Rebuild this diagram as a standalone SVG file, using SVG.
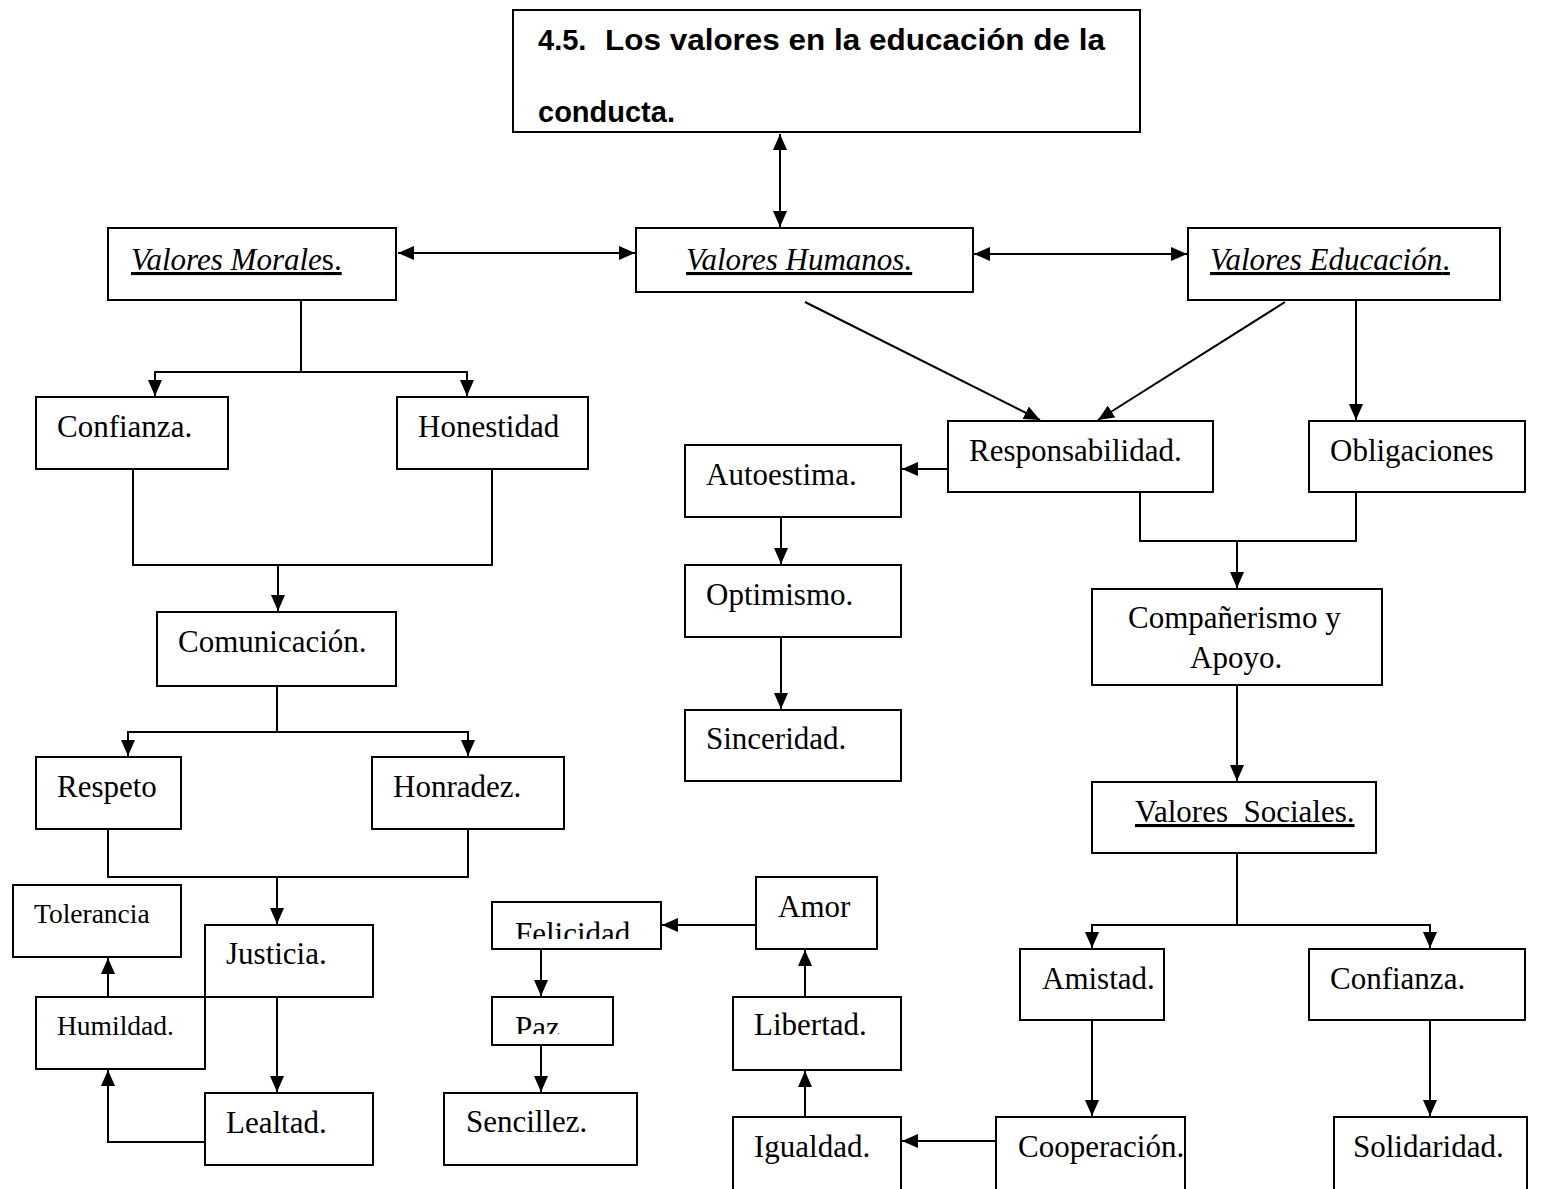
<svg xmlns="http://www.w3.org/2000/svg" width="1547" height="1189" viewBox="0 0 1547 1189">
<style>
.box{fill:#fff;stroke:#000;stroke-width:2}
.t{font-family:'Liberation Serif','Times New Roman',serif;font-size:31px;fill:#000}
.s{font-size:27.5px}
.i{font-style:italic}
.u{text-decoration:underline}
.h{font-family:'Liberation Sans',Arial,sans-serif;font-weight:bold;font-size:29px;fill:#000}
.c{fill:none;stroke:#000;stroke-width:2}
.a{marker-end:url(#ar)}
.b{marker-start:url(#ar);marker-end:url(#ar)}
</style>
<defs>
<marker id="ar" markerUnits="userSpaceOnUse" markerWidth="16" markerHeight="14" refX="16" refY="7" orient="auto-start-reverse" viewBox="0 0 16 14">
<path d="M0,0 L16,7 L0,14 z" fill="#000"/>
</marker>
<clipPath id="clipFel"><rect x="492" y="900" width="170" height="39"/></clipPath>
<clipPath id="clipPaz"><rect x="492" y="995" width="122" height="39"/></clipPath>
</defs>
<rect width="1547" height="1189" fill="#fff"/>

<g id="connectors">
<path class="c b" d="M780,134 V227"/>
<path class="c b" d="M398,253 H635"/>
<path class="c b" d="M974,254 H1187"/>
<path class="c" d="M301,301 V372 M155,372 H467"/>
<path class="c a" d="M155,371 V396"/>
<path class="c a" d="M467,371 V396"/>
<path class="c" d="M133,470 V565 H492 V470"/>
<path class="c a" d="M278,565 V611"/>
<path class="c" d="M277,687 V732 M128,732 H468"/>
<path class="c a" d="M128,731 V756"/>
<path class="c a" d="M468,731 V756"/>
<path class="c" d="M108,830 V877 H468 V830"/>
<path class="c a" d="M277,877 V924"/>
<path class="c a" d="M277,998 V1092"/>
<path class="c a" d="M205,1142 H108 V1070"/>
<path class="c a" d="M108,1005 V958"/>
<path class="c a" d="M756,925 H662"/>
<path class="c a" d="M541,950 V996"/>
<path class="c a" d="M541,1046 V1092"/>
<path class="c a" d="M805,997 V950"/>
<path class="c a" d="M805,1117 V1071"/>
<path class="c a" d="M996,1141 H902"/>
<path class="c a" d="M805,302 L1040,420"/>
<path class="c a" d="M1285,302 L1098,420"/>
<path class="c a" d="M1356,301 V420"/>
<path class="c a" d="M948,469 H902"/>
<path class="c a" d="M781,518 V564"/>
<path class="c a" d="M781,638 V709"/>
<path class="c" d="M1140,493 V541 H1356 V493"/>
<path class="c a" d="M1237,541 V588"/>
<path class="c a" d="M1237,686 V781"/>
<path class="c" d="M1237,854 V925 M1092,925 H1430"/>
<path class="c a" d="M1092,924 V948"/>
<path class="c a" d="M1430,924 V948"/>
<path class="c a" d="M1092,1021 V1116"/>
<path class="c a" d="M1430,1021 V1116"/>
</g>

<g id="titulo"><rect class="box" x="513" y="10" width="627" height="122"/>
<text class="h" x="538" y="50">4.5.</text>
<text class="h" x="605" y="50" textLength="500" lengthAdjust="spacingAndGlyphs">Los valores en la educación de la</text>
<text class="h" x="538" y="122">conducta.</text></g>

<g id="valores-morales"><rect class="box" x="108" y="228" width="288" height="72"/>
<text class="t i u" x="131" y="270">Valores Morale<tspan font-style="normal">s.</tspan></text></g>
<g id="valores-humanos"><rect class="box" x="636" y="228" width="337" height="64"/>
<text class="t i u" x="686" y="270">Valores Humanos.</text></g>
<g id="valores-educacion"><rect class="box" x="1188" y="228" width="312" height="72"/>
<text class="t i u" x="1210" y="270">Valores Educación<tspan font-style="normal">.</tspan></text></g>

<g id="confianza"><rect class="box" x="36" y="397" width="192" height="72"/>
<text class="t" x="57" y="437">Confianza.</text></g>
<g id="honestidad"><rect class="box" x="397" y="397" width="191" height="72"/>
<text class="t" x="418" y="437">Honestidad</text></g>
<g id="comunicacion"><rect class="box" x="157" y="612" width="239" height="74"/>
<text class="t" x="178" y="652">Comunicación.</text></g>
<g id="respeto"><rect class="box" x="36" y="757" width="145" height="72"/>
<text class="t" x="57" y="797">Respeto</text></g>
<g id="honradez"><rect class="box" x="372" y="757" width="192" height="72"/>
<text class="t" x="393" y="797">Honradez.</text></g>
<g id="tolerancia"><rect class="box" x="13" y="885" width="168" height="72"/>
<text class="t s" x="34" y="923">Tolerancia</text></g>
<g id="justicia"><rect class="box" x="205" y="925" width="168" height="72"/>
<text class="t" x="226" y="964">Justicia.</text></g>
<g id="humildad"><rect class="box" x="36" y="997" width="169" height="72"/>
<text class="t s" x="57" y="1035">Humildad.</text></g>
<g id="lealtad"><rect class="box" x="205" y="1093" width="168" height="72"/>
<text class="t" x="226" y="1133">Lealtad.</text></g>

<g id="felicidad"><rect class="box" x="492" y="902" width="169" height="47"/>
<text class="t" x="515" y="944" clip-path="url(#clipFel)">Felicidad.</text></g>
<g id="paz"><rect class="box" x="492" y="997" width="121" height="48"/>
<text class="t" x="515" y="1038" clip-path="url(#clipPaz)">Paz.</text></g>
<g id="sencillez"><rect class="box" x="444" y="1093" width="193" height="72"/>
<text class="t" x="466" y="1132">Sencillez.</text></g>
<g id="amor"><rect class="box" x="756" y="877" width="121" height="72"/>
<text class="t" x="778" y="917">Amor</text></g>
<g id="libertad"><rect class="box" x="733" y="997" width="168" height="73"/>
<text class="t" x="754" y="1035">Libertad.</text></g>
<g id="igualdad"><rect class="box" x="733" y="1117" width="168" height="80"/>
<text class="t" x="754" y="1157">Igualdad.</text></g>

<g id="responsabilidad"><rect class="box" x="948" y="421" width="265" height="71"/>
<text class="t" x="969" y="461">Responsabilidad.</text></g>
<g id="obligaciones"><rect class="box" x="1309" y="421" width="216" height="71"/>
<text class="t" x="1330" y="461">Obligaciones</text></g>
<g id="autoestima"><rect class="box" x="685" y="445" width="216" height="72"/>
<text class="t" x="706" y="485">Autoestima.</text></g>
<g id="optimismo"><rect class="box" x="685" y="565" width="216" height="72"/>
<text class="t" x="706" y="605">Optimismo.</text></g>
<g id="sinceridad"><rect class="box" x="685" y="710" width="216" height="71"/>
<text class="t" x="706" y="749">Sinceridad.</text></g>
<g id="companerismo"><rect class="box" x="1092" y="589" width="290" height="96"/>
<text class="t" x="1128" y="628">Compañerismo y</text>
<text class="t" x="1190" y="668">Apoyo.</text></g>
<g id="valores-sociales"><rect class="box" x="1092" y="782" width="284" height="71"/>
<text class="t u" x="1135" y="822" style="white-space:pre">Valores  Sociales.</text></g>
<g id="amistad"><rect class="box" x="1020" y="949" width="144" height="71"/>
<text class="t" x="1042" y="989">Amistad.</text></g>
<g id="confianza-2"><rect class="box" x="1309" y="949" width="216" height="71"/>
<text class="t" x="1330" y="989">Confianza.</text></g>
<g id="cooperacion"><rect class="box" x="996" y="1117" width="189" height="80"/>
<text class="t" x="1018" y="1157">Cooperación.</text></g>
<g id="solidaridad"><rect class="box" x="1334" y="1117" width="193" height="80"/>
<text class="t" x="1353" y="1157">Solidaridad.</text></g>
</svg>
